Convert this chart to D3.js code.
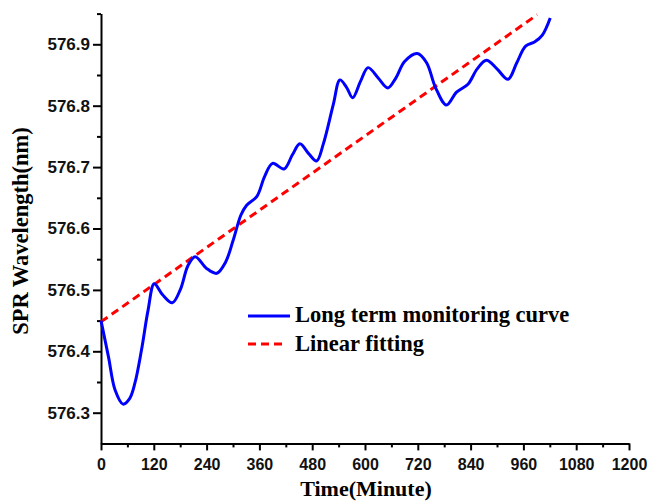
<!DOCTYPE html>
<html><head><meta charset="utf-8">
<script src="https://cdn.jsdelivr.net/npm/d3@7"></script>
<style>body{margin:0;background:#fff}svg{display:block}</style>
</head><body>
<svg id="c" width="659" height="502"></svg>
<script>
const minutes = [0,17,32,50,65,77,92,107,121,140,162,180,198,214,240,263,283,300,318,331,354,372,390,416,435,452,472,490,505,528,543,558,572,590,607,630,652,670,690,719,740,760,785,808,834,855,876,900,925,945,965,986,1003,1021];
const wavelength = [576.450,576.391,576.337,576.314,576.323,576.348,576.402,576.467,576.510,576.492,576.479,576.500,576.540,576.554,576.535,576.527,576.545,576.580,576.622,576.638,576.652,576.685,576.706,576.697,576.720,576.738,576.722,576.710,576.737,576.802,576.842,576.830,576.813,576.840,576.862,576.845,576.829,576.845,576.872,576.885,576.870,576.830,576.801,576.822,576.835,576.860,576.874,576.860,576.843,576.870,576.897,576.904,576.915,576.943];
const fitX = [0, 991];
const fitY = [576.448, 576.948];
const xTicks = [0,120,240,360,480,600,720,840,960,1080,1200];
const xMinor = [60,180,300,420,540,660,780,900,1020,1140];
const yTicks = [576.3,576.4,576.5,576.6,576.7,576.8,576.9];
const yMinor = [576.35,576.45,576.55,576.65,576.75,576.85,576.95];
const legendLabels = ["Long term monitoring curve","Linear fitting"];

const svg = d3.select("#c");
const x = d3.scaleLinear().domain([0,1200]).range([101,629]);
const y = d3.scaleLinear().domain([576.25,576.95]).range([443.4,13.6]);

const sans = "'Liberation Sans', Arial, sans-serif";
const serif = "'Liberation Serif', 'Times New Roman', serif";

function styleAxis(g, fs){
  g.select(".domain").attr("stroke","#000").attr("stroke-width",2);
  g.selectAll(".tick line").attr("stroke","#000").attr("stroke-width",2);
  g.selectAll("text").attr("font-family",sans).attr("font-weight","bold").attr("font-size",fs).attr("fill","#111");
}
// minor ticks
svg.append("g").attr("transform","translate(0,443.4)")
  .call(d3.axisBottom(x).tickValues(xMinor).tickSize(4).tickFormat(""))
  .call(g=>{g.select(".domain").remove();g.selectAll(".tick line").attr("stroke","#000").attr("stroke-width",2);});
svg.append("g").attr("transform","translate(101,0)")
  .call(d3.axisLeft(y).tickValues(yMinor).tickSize(4).tickFormat(""))
  .call(g=>{g.select(".domain").remove();g.selectAll(".tick line").attr("stroke","#000").attr("stroke-width",2);});
// major
svg.append("g").attr("transform","translate(0,443.4)")
  .call(d3.axisBottom(x).tickValues(xTicks).tickSize(7).tickSizeOuter(0).tickPadding(8).tickFormat(d3.format("d")))
  .call(g=>styleAxis(g,16));
svg.append("g").attr("transform","translate(101,0)")
  .call(d3.axisLeft(y).tickValues(yTicks).tickSize(8).tickSizeOuter(0).tickPadding(3).tickFormat(d3.format(".1f")))
  .call(g=>styleAxis(g,17));

// titles
svg.append("text").attr("x",366).attr("y",496).attr("text-anchor","middle")
  .attr("font-family",serif).attr("font-weight","bold").attr("font-size",22).text("Time(Minute)");
svg.append("text").attr("transform","translate(28,231) rotate(-90)").attr("text-anchor","middle")
  .attr("font-family",serif).attr("font-weight","bold").attr("font-size",22.5).text("SPR Wavelength(nm)");

// fit line
svg.append("line").attr("x1",x(fitX[0])).attr("y1",y(fitY[0])).attr("x2",x(fitX[1])).attr("y2",y(fitY[1]))
  .attr("stroke","#ff0000").attr("stroke-width",3).attr("stroke-dasharray","8,5");
// curve
const data = minutes.map((m,i)=>[m,wavelength[i]]);
svg.append("path").datum(data)
  .attr("d", d3.line().x(d=>x(d[0])).y(d=>y(d[1])).curve(d3.curveCatmullRom.alpha(0.5)))
  .attr("fill","none").attr("stroke","#0000ff").attr("stroke-width",3).attr("stroke-linejoin","round");

// legend
const lg = svg.append("g");
lg.append("line").attr("x1",248).attr("x2",290).attr("y1",316).attr("y2",316).attr("stroke","#0000ff").attr("stroke-width",3);
lg.append("line").attr("x1",248).attr("x2",284).attr("y1",344).attr("y2",344).attr("stroke","#ff0000").attr("stroke-width",3).attr("stroke-dasharray","8,5");
lg.append("text").attr("x",295).attr("y",322).attr("font-family",serif).attr("font-weight","bold").attr("font-size",22.5).text(legendLabels[0]);
lg.append("text").attr("x",295).attr("y",351).attr("font-family",serif).attr("font-weight","bold").attr("font-size",22.5).text(legendLabels[1]);
</script>
</body></html>
